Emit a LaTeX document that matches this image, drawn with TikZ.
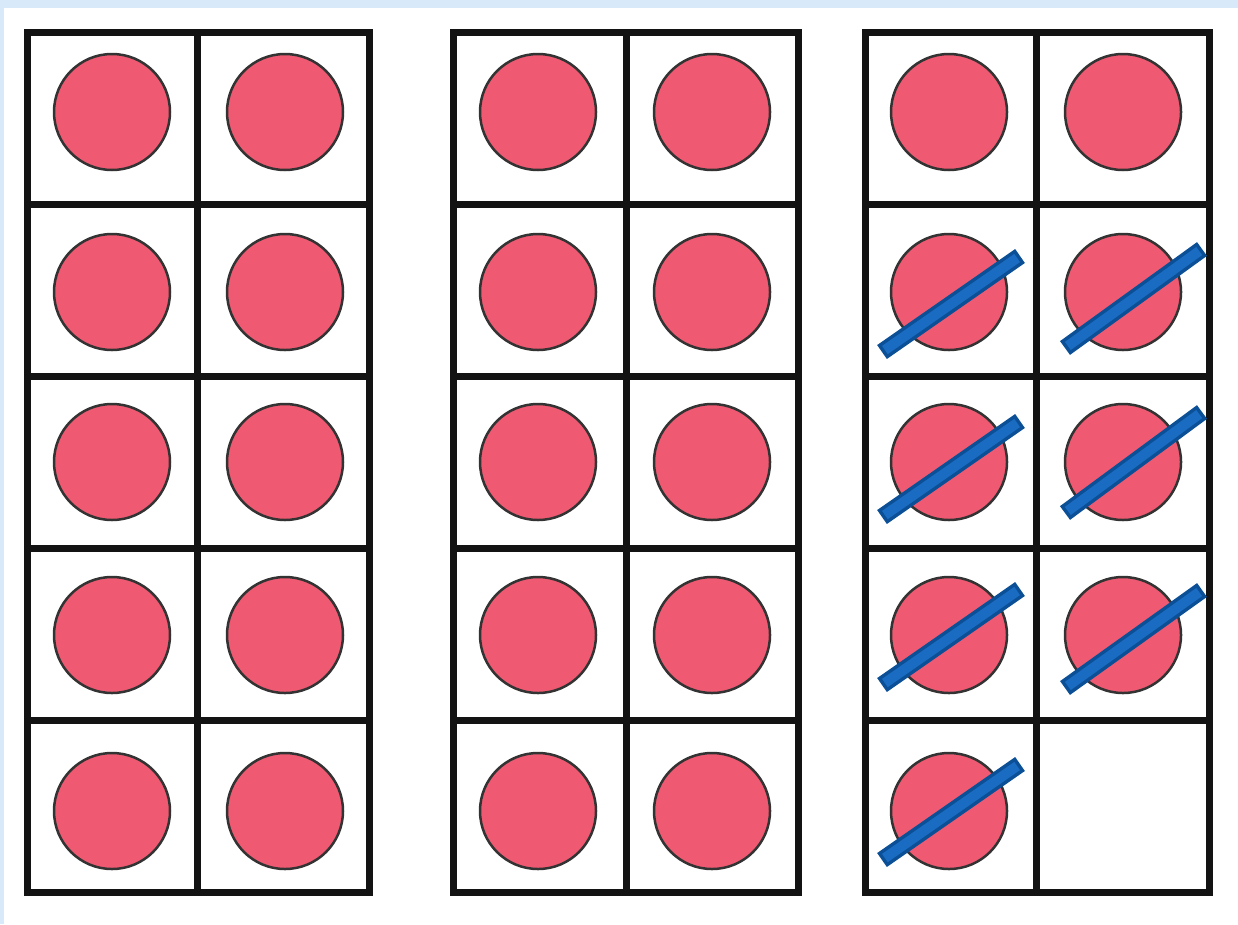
\documentclass[tikz,border=0pt]{standalone}
\usetikzlibrary{calc}
\begin{document}
\begin{tikzpicture}[x=1pt,y=-1pt,
  gridline/.style={draw=black!85!gray, line width=7pt, line cap=rect},
  counter/.style={circle, draw=black!80, line width=2.5pt, fill=countred, minimum size=116pt, inner sep=0pt},
  strikeout/.style={draw=strikedark, line width=17pt, line cap=butt},
  strikein/.style={draw=strikelight, line width=10pt, line cap=butt}]
\definecolor{countred}{HTML}{EF5A72}
\definecolor{strikedark}{HTML}{0B4F96}
\definecolor{strikelight}{HTML}{1A6CC2}
\definecolor{bgblue}{HTML}{D8E9F9}
\useasboundingbox (0,0) rectangle (1238,924);
\fill[bgblue] (0,0) rectangle (1238,8);
\fill[bgblue] (0,0) rectangle (4,924);
% frames
\foreach \l/\m/\r in {27/197/369, 453/626/798, 865/1036/1209}{
  \foreach \y in {32,204,376,548,720,892}{\draw[gridline] (\l,\y) -- (\r,\y);}
  \draw[gridline] (\l,32) -- (\l,892);
  \draw[gridline] (\m,32) -- (\m,892);
  \draw[gridline] (\r,32) -- (\r,892);
}
% counters
\foreach \x/\n in {112/a,285/b,538/c,712/d}{
  \foreach \y/\k in {112/1,292/2,462/3,635/4,811/5}{
    \node[counter] (\n\k) at (\x,\y) {};
  }
}
\foreach \y/\k in {112/1,292/2,462/3,635/4,811/5}{
  \node[counter] (e\k) at (949,\y) {};
}
\foreach \y/\k in {112/1,292/2,462/3,635/4}{
  \node[counter] (f\k) at (1123,\y) {};
}
% strikes
\foreach \n/\ax/\ay/\bx/\by in {e2/-67/60/71/-36, e3/-67/55/71/-41, e4/-67/50/71/-46, e5/-67/49/71/-47,
                                f2/-58/56/79/-43, f3/-58/51/79/-50, f4/-58/53/79/-45}{
  \coordinate (p\n) at ($(\n)+(\ax,\ay)$);
  \coordinate (q\n) at ($(\n)+(\bx,\by)$);
  \draw[strikeout] (p\n) -- (q\n);
  \draw[strikein] ($(p\n)!3.5pt!(q\n)$) -- ($(q\n)!3.5pt!(p\n)$);
}
\end{tikzpicture}
\end{document}
